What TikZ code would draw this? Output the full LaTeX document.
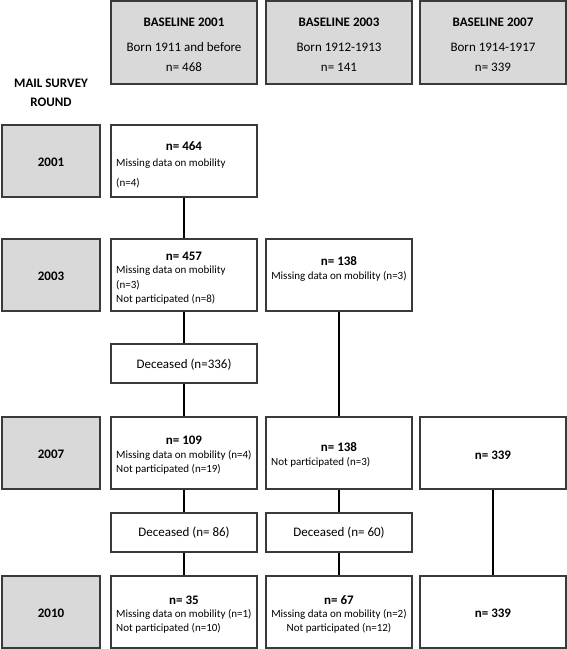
\documentclass[tikz,border=0pt]{standalone}
\usepackage{fontspec}
\setmainfont{Carlito}
\definecolor{boxgray}{HTML}{D9D9D9}
\definecolor{edgegray}{HTML}{3A3A3A}
\begin{document}
\begin{tikzpicture}[x=1pt,y=-1pt,
    box/.style={draw=edgegray,line width=1.1pt,minimum width=146pt,minimum height=72pt,inner sep=0pt},
    basebox/.style={box,fill=boxgray,minimum height=83pt},
    roundbox/.style={box,fill=boxgray,minimum width=98pt},
    deadbox/.style={box,minimum height=39pt},
    big/.style={inner sep=0pt,font=\fontsize{13}{15}\selectfont},
    bigbf/.style={big,font=\fontsize{13}{15}\selectfont\bfseries},
    small/.style={inner sep=0pt,font=\fontsize{11}{13}\selectfont},
    link/.style={draw=black,line width=1.1pt}]
            \useasboundingbox (0,0) rectangle (567,649);

            % baseline cohorts
            \node[basebox] (B1) at (184, 42.5) {};
            \node[basebox] (B2) at (339, 42.5) {};
            \node[basebox] (B3) at (493, 42.5) {};
            \node[bigbf] (B1t) at (184, 22) {BASELINE 2001};
            \node[big] (B1b) at (184, 47) {Born 1911 and before};
            \node[big] (B1n) at (184, 67) {n= 468};
            \node[bigbf] (B2t) at (339, 22) {BASELINE 2003};
            \node[big] (B2b) at (339, 47) {Born 1912-1913};
            \node[big] (B2n) at (339, 67) {n= 141};
            \node[bigbf] (B3t) at (493, 22) {BASELINE 2007};
            \node[big] (B3b) at (493, 47) {Born 1914-1917};
            \node[big] (B3n) at (493, 67) {n= 339};

            \node[bigbf] (M1) at (51, 83) {MAIL SURVEY};
            \node[bigbf] (M2) at (51, 102) {ROUND};

            % survey rounds
            \node[roundbox] (R1) at (51, 161) {};
            \node[roundbox] (R2) at (51, 275) {};
            \node[roundbox] (R3) at (51, 453) {};
            \node[roundbox] (R4) at (51, 612) {};
            \node[bigbf] (R1t) at (51, 162) {2001};
            \node[bigbf] (R2t) at (51, 276) {2003};
            \node[bigbf] (R3t) at (51, 454) {2007};
            \node[bigbf] (R4t) at (51, 613) {2010};

            % 2001
            \node[box] (A1) at (184, 161) {};
            \node[bigbf] (A1n) at (184, 146) {n= 464};
            \node[small,anchor=west] (A1a) at (116, 164) {Missing data on mobility};
            \node[small,anchor=west] (A1b) at (116, 183) {(n=4)};

            % 2003
            \node[box] (A2) at (184, 275) {};
            \node[bigbf] (A2n) at (184, 256) {n= 457};
            \node[small,anchor=west] (A2a) at (116, 271) {Missing data on mobility};
            \node[small,anchor=west] (A2b) at (116, 285) {(n=3)};
            \node[small,anchor=west] (A2c) at (116, 299) {Not participated (n=8)};
            \node[box] (C2) at (339, 275) {};
            \node[bigbf] (C2n) at (339, 261) {n= 138};
            \node[small] (C2a) at (339, 276) {Missing data on mobility (n=3)};

            \node[deadbox] (D1) at (184, 363.5) {};
            \node[big] (D1t) at (184, 365) {Deceased (n=336)};

            % 2007
            \node[box] (A3) at (184, 453) {};
            \node[bigbf] (A3n) at (184, 440) {n= 109};
            \node[small,anchor=west] (A3a) at (116, 455) {Missing data on mobility (n=4)};
            \node[small,anchor=west] (A3b) at (116, 469) {Not participated (n=19)};
            \node[box] (C3) at (339, 453) {};
            \node[bigbf] (C3n) at (339, 447) {n= 138};
            \node[small,anchor=west] (C3a) at (271, 462) {Not participated (n=3)};
            \node[box] (E3) at (493, 453) {};
            \node[bigbf] (E3n) at (493, 455) {n= 339};

            \node[deadbox] (D2) at (184, 532.5) {};
            \node[big] (D2t) at (184, 533) {Deceased (n= 86)};
            \node[deadbox] (D3) at (339, 532.5) {};
            \node[big] (D3t) at (339, 533) {Deceased (n= 60)};

            % 2010
            \node[box] (A4) at (184, 612) {};
            \node[bigbf] (A4n) at (184, 600) {n= 35};
            \node[small,anchor=west] (A4a) at (116, 614) {Missing data on mobility (n=1)};
            \node[small,anchor=west] (A4b) at (116, 628) {Not participated (n=10)};
            \node[box] (C4) at (339, 612) {};
            \node[bigbf] (C4n) at (339, 600) {n= 67};
            \node[small] (C4a) at (339, 614) {Missing data on mobility (n=2)};
            \node[small] (C4b) at (339, 628) {Not participated (n=12)};
            \node[box] (E4) at (493, 612) {};
            \node[bigbf] (E4n) at (493, 613) {n= 339};

            % connectors
            \draw[link] (A1.south) -- (A2.north);
            \draw[link] (A2.south) -- (D1.north);
            \draw[link] (D1.south) -- (A3.north);
            \draw[link] (C2.south) -- (C3.north);
            \draw[link] (A3.south) -- (D2.north);
            \draw[link] (D2.south) -- (A4.north);
            \draw[link] (C3.south) -- (D3.north);
            \draw[link] (D3.south) -- (C4.north);
            \draw[link] (E3.south) -- (E4.north);
\end{tikzpicture}
\end{document}
